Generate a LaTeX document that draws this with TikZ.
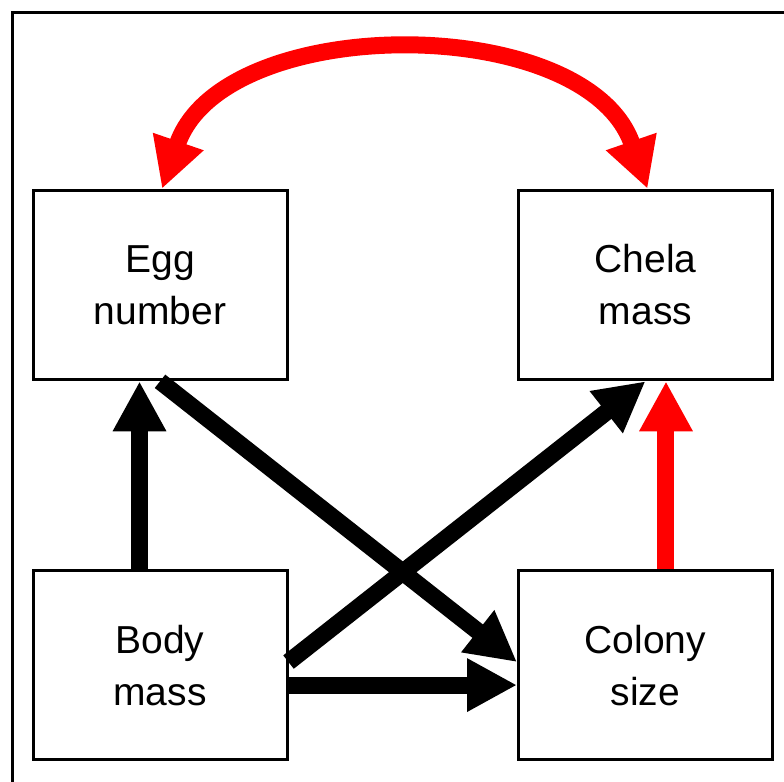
\documentclass[tikz,border=0pt]{standalone}
\usepackage{fontspec}
\setmainfont{Liberation Sans}
\usepackage{tikz}
\usetikzlibrary{arrows.meta}

\begin{document}
\begin{tikzpicture}
\clip (0,0) rectangle (13.777,13.725);
\draw[line width=1.5pt] (0.211,-1) rectangle (15,13.514);
\begin{scope}[every node/.style={rectangle,draw,line width=1.5pt,align=center,
              minimum width=4.463cm,minimum height=3.33cm,inner sep=0pt,
              font=\fontsize{19.5}{26}\selectfont}]
  \node (E) at (2.812,8.716) {Egg\\number};
    \node (C) at (11.343,8.716) {Chela\\mass};
    \node (B) at (2.812,2.038) {Body\\mass};
    \node (S) at (11.343,2.038) {Colony\\size};
\end{scope}

\begin{scope}[>={Triangle[length=25pt,width=25pt]},
              every edge/.style={draw=black, line width=8.5pt}]
    \path[->] ([xshift=-10.25pt]B.north) edge ([xshift=-10.25pt]E.south);
    \path[->] (E.south) edge ([yshift=1.5pt]S.west);
    \path[->] ([yshift=1.5pt]B.east) edge (C.south);
    \path[->] ([yshift=-10pt]B.east) edge ([yshift=-10pt]S.west);
    \path[->] ([xshift=10.25pt]S.north) edge[draw=red] ([xshift=10.25pt]C.south);
    \path[<->] ([xshift=1pt]E.north) edge[draw=red, out=71, in=109, looseness=0.99] ([xshift=1pt]C.north);
\end{scope}
\end{tikzpicture}
\end{document}
